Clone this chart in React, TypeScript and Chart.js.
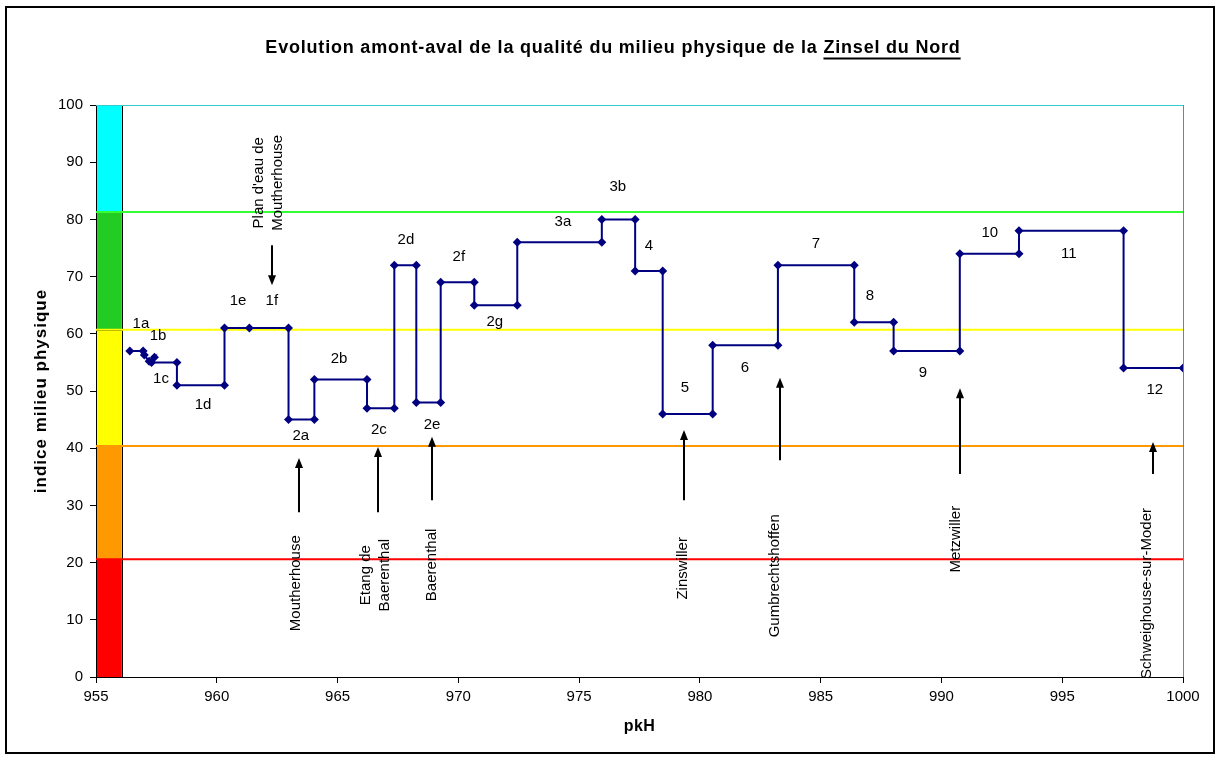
import React, { useEffect, useRef } from "react";
import { Chart, registerables } from "chart.js";

Chart.register(...registerables);

// Main series: pkH (x) and indice milieu physique (y), step profile
const pkH = [
  956.4, 956.95, 957.0, 957.2, 957.42, 957.3, 958.35, 958.35, 960.32, 960.32, 961.35, 962.97,
  962.97, 964.04, 964.04, 966.22, 966.22, 967.35, 967.35, 968.26, 968.26, 969.27, 969.27,
  970.66, 970.66, 972.44, 972.44, 975.94, 975.94, 977.32, 977.32, 978.46, 978.46, 980.53,
  980.53, 983.23, 983.23, 986.39, 986.39, 988.02, 988.02, 990.76, 990.76, 993.21, 993.21,
  997.54, 997.54, 1000,
];
const indice = [
  57, 57, 56.3, 55.2, 55.9, 55, 55, 51, 51, 61, 61, 61,
  45, 45, 52, 52, 47, 47, 72, 72, 48, 48, 69,
  69, 65, 65, 76, 76, 80, 80, 71, 71, 46, 46,
  58, 58, 72, 72, 62, 62, 57, 57, 74, 74,
  78, 78, 54, 54,
];

// Quality class thresholds
const thresholdValues = [20.6, 40.4, 60.7, 81.3, 100];
const thresholdColors = ["#FF0000", "#FF9900", "#FFFF00", "#33FF33", "#33CCCC"];
const bandEdges = [0, 20.6, 40.4, 60.7, 81.3, 100];
const bandColors = ["#FF0000", "#FF9900", "#FFFF00", "#22CC22", "#00FFFF"];
const bandX = [955, 956.07];

// Axis ticks
const xMin = 955;
const xMax = 1000;
const xStep = 5;
const yMin = 0;
const yMax = 100;
const yStep = 10;

// Segment labels
const segLabels = ["1a", "1b", "1c", "1d", "1e", "1f", "2a", "2b", "2c", "2d", "2e", "2f", "2g", "3a", "3b", "4", "5", "6", "7", "8", "9", "10", "11", "12"];
const segLabelX = [956.86, 957.57, 957.69, 959.43, 960.88, 962.28, 963.48, 965.06, 966.71, 967.83, 968.91, 970.02, 971.51, 974.33, 976.6, 977.89, 979.38, 981.86, 984.8, 987.04, 989.23, 992.0, 995.27, 998.83];
const segLabelY = [61.7, 59.6, 52.1, 47.6, 65.7, 65.7, 42.1, 55.6, 43.2, 76.4, 44.1, 73.4, 62.1, 79.5, 85.7, 75.3, 50.5, 54.0, 75.7, 66.6, 53.1, 77.6, 73.9, 50.2];

// Place names (vertical text)
const placeLines = [
  ["Plan d'eau de", "Moutherhouse"],
  ["Moutherhouse"],
  ["Etang de", "Baerenthal"],
  ["Baerenthal"],
  ["Zinswiller"],
  ["Gumbrechtshoffen"],
  ["Metzwiller"],
  ["Schweighouse-sur-Moder"],
];
const placeX = [962.12, 963.28, 966.55, 968.9, 979.3, 983.1, 990.6, 998.5];
const placeY = [86.4, 16.4, 17.8, 19.6, 19.0, 17.7, 24.1, 14.6];

// Arrows (x, from y, to y — head at "to")
const arrowX = [962.28, 963.4, 966.67, 968.9, 979.34, 983.31, 990.76, 998.75];
const arrowFrom = [75.5, 28.8, 28.8, 30.9, 30.9, 37.9, 35.5, 35.5];
const arrowTo = [68.5, 38.3, 40.2, 42.0, 43.2, 52.3, 50.5, 41.1];

const titleMain = "Evolution amont-aval de la qualité du milieu physique de la ";
const titleUnderlined = "Zinsel du Nord";
const xTitle = "pkH";
const yTitle = "indice milieu physique";

const FONT = "'Liberation Sans', Arial, Helvetica, sans-serif";

const decorPlugin = {
  id: "decor",
  beforeDraw(chart: any) {
    const ctx = chart.ctx;
    ctx.save();
    ctx.fillStyle = "#FFFFFF";
    ctx.fillRect(0, 0, chart.width, chart.height);
    ctx.strokeStyle = "#000000";
    ctx.lineWidth = 2;
    ctx.strokeRect(6, 7, 1208, 746);

    // title
    ctx.font = `bold 18px ${FONT}`;
    try {
      ctx.letterSpacing = "0.8px";
    } catch (e) {}
    ctx.fillStyle = "#000000";
    ctx.textBaseline = "middle";
    ctx.textAlign = "left";
    const w1 = ctx.measureText(titleMain).width;
    const w2 = ctx.measureText(titleUnderlined).width;
    const cx = 613;
    const sx = cx - (w1 + w2) / 2;
    ctx.fillText(titleMain, sx, 48);
    ctx.fillText(titleUnderlined, sx + w1, 48);
    ctx.lineWidth = 2;
    ctx.beginPath();
    ctx.moveTo(sx + w1, 58.5);
    ctx.lineTo(sx + w1 + w2, 58.5);
    ctx.stroke();

    const area = chart.chartArea;
    // axis titles
    ctx.font = `bold 16px ${FONT}`;
    try {
      ctx.letterSpacing = "0.5px";
    } catch (e) {}
    ctx.textAlign = "center";
    ctx.fillText(xTitle, (area.left + area.right) / 2, 727);
    ctx.font = `bold 17px ${FONT}`;
    try {
      ctx.letterSpacing = "1px";
    } catch (e) {}
    ctx.save();
    ctx.translate(41, (area.top + area.bottom) / 2);
    ctx.rotate(-Math.PI / 2);
    ctx.fillText(yTitle, 0, 0);
    ctx.restore();
    try {
      ctx.letterSpacing = "0px";
    } catch (e) {}
    ctx.restore();
  },
  beforeDatasetsDraw(chart: any) {
    const ctx = chart.ctx;
    const xs = chart.scales.x;
    const ys = chart.scales.y;
    const area = chart.chartArea;
    ctx.save();
    // plot area border (grey)
    ctx.strokeStyle = "#808080";
    ctx.lineWidth = 1;
    ctx.beginPath();
    ctx.moveTo(area.right + 0.5, area.top);
    ctx.lineTo(area.right + 0.5, area.bottom);
    ctx.stroke();
    // quality bands
    const x0 = xs.getPixelForValue(bandX[0]);
    const x1 = xs.getPixelForValue(bandX[1]);
    for (let i = 0; i < bandColors.length; i++) {
      const yA = ys.getPixelForValue(bandEdges[i]);
      const yB = ys.getPixelForValue(bandEdges[i + 1]);
      ctx.fillStyle = bandColors[i];
      ctx.fillRect(x0, yB, x1 - x0, yA - yB);
      ctx.strokeStyle = "#000000";
      ctx.lineWidth = 1;
      ctx.strokeRect(Math.round(x0) + 0.5, Math.round(yB) + 0.5, Math.round(x1 - x0), Math.round(yA - yB));
    }
    ctx.restore();
  },
  afterDatasetsDraw(chart: any) {
    const ctx = chart.ctx;
    const xs = chart.scales.x;
    const ys = chart.scales.y;
    ctx.save();
    ctx.fillStyle = "#000000";
    ctx.font = `15px ${FONT}`;
    ctx.textAlign = "center";
    ctx.textBaseline = "middle";
    for (let i = 0; i < segLabels.length; i++) {
      ctx.fillText(segLabels[i], xs.getPixelForValue(segLabelX[i]), ys.getPixelForValue(segLabelY[i]));
    }
    // vertical place names
    const lh = 19;
    for (let i = 0; i < placeLines.length; i++) {
      const lines = placeLines[i];
      ctx.save();
      ctx.translate(xs.getPixelForValue(placeX[i]), ys.getPixelForValue(placeY[i]));
      ctx.rotate(-Math.PI / 2);
      for (let j = 0; j < lines.length; j++) {
        const off = (j - (lines.length - 1) / 2) * lh;
        ctx.fillText(lines[j], 0, off);
      }
      ctx.restore();
    }
    // arrows
    ctx.strokeStyle = "#000000";
    ctx.lineWidth = 2;
    for (let i = 0; i < arrowX.length; i++) {
      const x = Math.round(xs.getPixelForValue(arrowX[i]));
      const yf = ys.getPixelForValue(arrowFrom[i]);
      const yt = ys.getPixelForValue(arrowTo[i]);
      const dir = yt < yf ? -1 : 1;
      ctx.beginPath();
      ctx.moveTo(x, yf);
      ctx.lineTo(x, yt - dir * 8);
      ctx.stroke();
      ctx.beginPath();
      ctx.moveTo(x, yt);
      ctx.lineTo(x - 4, yt - dir * 10);
      ctx.lineTo(x + 4, yt - dir * 10);
      ctx.closePath();
      ctx.fill();
    }
    ctx.restore();
  },
};

export default function App() {
  const canvasRef = useRef<HTMLCanvasElement | null>(null);

  useEffect(() => {
    if (!canvasRef.current) return;
    const thresholdSets = thresholdValues.map((v, i) => ({
      label: `seuil ${v}`,
      data: [
        { x: xMin, y: v },
        { x: xMax, y: v },
      ],
      borderColor: thresholdColors[i],
      borderWidth: 2,
      pointRadius: 0,
      fill: false,
      order: 2,
    }));
    const chart = new Chart(canvasRef.current, {
      type: "line",
      data: {
        datasets: [
          {
            label: "indice",
            data: pkH.map((x, i) => ({ x, y: indice[i] })),
            borderColor: "#000080",
            backgroundColor: "#000080",
            borderWidth: 2,
            pointStyle: "rectRot",
            pointRadius: 4.5,
            pointBorderWidth: 0,
            pointBackgroundColor: "#000080",
            tension: 0,
            fill: false,
            order: 0,
          },
          ...thresholdSets,
        ],
      },
      options: {
        responsive: false,
        animation: false,
        devicePixelRatio: 1,
        layout: { padding: { top: 105, right: 38, left: 0, bottom: 0 } },
        plugins: {
          legend: { display: false },
          tooltip: { enabled: false },
          title: { display: false },
        },
        scales: {
          x: {
            type: "linear",
            min: xMin,
            max: xMax,
            afterFit(scale: any) {
              scale.height = 83;
            },
            ticks: {
              stepSize: xStep,
              color: "#000000",
              font: { family: FONT, size: 15 },
              padding: 5,
              maxRotation: 0,
              callback: (v: any) => String(v),
            },
            grid: {
              drawOnChartArea: false,
              tickLength: 6,
              color: "#000000",
            },
            border: { color: "#000000", width: 1 },
          },
          y: {
            min: yMin,
            max: yMax,
            afterFit(scale: any) {
              scale.width = 96;
            },
            ticks: {
              stepSize: yStep,
              color: "#000000",
              font: { family: FONT, size: 15 },
              padding: 7,
              callback: (v: any) => String(v),
            },
            grid: {
              drawOnChartArea: false,
              tickLength: 6,
              color: "#000000",
            },
            border: { color: "#000000", width: 1 },
          },
        },
      },
      plugins: [decorPlugin],
    });
    return () => chart.destroy();
  }, []);

  return (
    <div style={{ position: "absolute", left: 0, top: 0, width: 1221, height: 760 }}>
      <canvas ref={canvasRef} width={1221} height={760} style={{ width: 1221, height: 760 }} />
    </div>
  );
}
